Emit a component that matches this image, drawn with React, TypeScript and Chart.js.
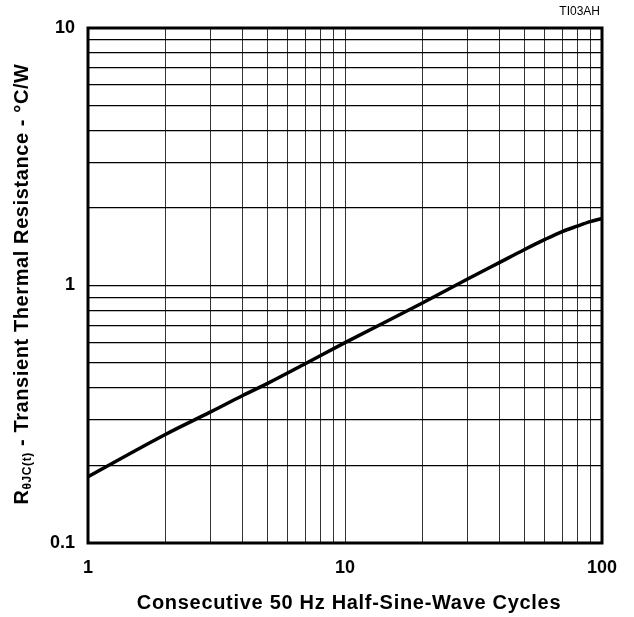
import React, { useEffect, useRef } from "react";
import { Chart, registerables } from "chart.js";

Chart.register(...registerables);

const cycles = [1, 2, 3, 4, 5, 7, 10, 20, 30, 40, 50, 60, 70, 80, 90, 100];
const resistance = [0.181, 0.264, 0.323, 0.374, 0.417, 0.497, 0.6, 0.855, 1.06, 1.23, 1.38, 1.51, 1.62, 1.7, 1.77, 1.82];
const xGridValues = [1, 2, 3, 4, 5, 6, 7, 8, 9, 10, 20, 30, 40, 50, 60, 70, 80, 90, 100];
const yGridValues = [0.1, 0.2, 0.3, 0.4, 0.5, 0.6, 0.7, 0.8, 0.9, 1, 2, 3, 4, 5, 6, 7, 8, 9, 10];
const xLabeled = [1, 10, 100];
const yLabeled = [0.1, 1, 10];
const xTitle = "Consecutive 50 Hz Half-Sine-Wave Cycles";
const yTitleMain = "R";
const yTitleSub = "θJC(t)";
const yTitleRest = " - Transient Thermal Resistance - °C/W";
const figId = "TI03AH";

const FONT = "'Liberation Sans', Arial, Helvetica, sans-serif";

const near = (v: number, arr: number[]) => arr.some((a) => Math.abs(a - v) / a < 1e-6);

const decorPlugin = {
  id: "decor",
  afterDraw(chart: any) {
    const { ctx, chartArea } = chart;
    const { left, right, top, bottom } = chartArea;
    ctx.save();
    // border
    ctx.strokeStyle = "#000";
    ctx.lineWidth = 3;
    ctx.strokeRect(left, top, right - left, bottom - top);
    // figure id
    ctx.fillStyle = "#000";
    ctx.font = `12px ${FONT}`;
    ctx.textAlign = "right";
    ctx.textBaseline = "middle";
    ctx.fillText(figId, 600, 12);
    // x title
    ctx.font = `bold 20px ${FONT}`;
    (ctx as any).letterSpacing = "0.7px";
    ctx.textAlign = "center";
    ctx.fillText(xTitle, 349, 603);
    // y title
    ctx.translate(22, 284);
    ctx.rotate(-Math.PI / 2);
    const mainFont = `bold 20px ${FONT}`;
    const subFont = `bold 12px ${FONT}`;
    (ctx as any).letterSpacing = "0.6px";
    ctx.font = mainFont;
    const w1 = ctx.measureText(yTitleMain).width;
    const w3 = ctx.measureText(yTitleRest).width;
    ctx.font = subFont;
    const w2 = ctx.measureText(yTitleSub).width;
    const total = w1 + w2 + w3;
    let x = -total / 2;
    ctx.textAlign = "left";
    ctx.font = mainFont;
    ctx.fillText(yTitleMain, x, 0);
    x += w1;
    ctx.font = subFont;
    ctx.fillText(yTitleSub, x, 6);
    x += w2;
    ctx.font = mainFont;
    ctx.fillText(yTitleRest, x, 0);
    ctx.restore();
  },
};

export default function App() {
  const ref = useRef<HTMLCanvasElement | null>(null);
  useEffect(() => {
    document.body.style.margin = "0";
    const canvas = ref.current!;
    const chart = new Chart(canvas, {
      type: "line",
      data: {
        datasets: [
          {
            data: cycles.map((c, i) => ({ x: c, y: resistance[i] })),
            borderColor: "#000",
            borderWidth: 3.5,
            pointRadius: 0,
            cubicInterpolationMode: "monotone",
            fill: false,
          },
        ],
      },
      options: {
        animation: false,
        responsive: false,
        maintainAspectRatio: false,
        layout: { padding: { top: 28, right: 32, left: 0, bottom: 0 } },
        plugins: { legend: { display: false }, tooltip: { enabled: false }, title: { display: false } },
        scales: {
          x: {
            type: "logarithmic",
            min: 1,
            max: 100,
            afterBuildTicks: (scale: any) => {
              scale.ticks = xGridValues.map((v) => ({ value: v }));
            },
            afterFit: (scale: any) => {
              scale.height = 74;
            },
            ticks: {
              autoSkip: false,
              maxRotation: 0,
              padding: 14,
              color: "#000",
              font: { family: FONT, size: 18, weight: "bold" },
              callback: (v: any) => (near(Number(v), xLabeled) ? String(Number(v)) : ""),
            },
            grid: { color: "#333", lineWidth: 1, drawTicks: false },
            border: { display: false },
          },
          y: {
            type: "logarithmic",
            min: 0.1,
            max: 10,
            afterBuildTicks: (scale: any) => {
              scale.ticks = yGridValues.map((v) => ({ value: v }));
            },
            afterFit: (scale: any) => {
              scale.width = 88;
            },
            ticks: {
              autoSkip: false,
              padding: 13,
              color: "#000",
              font: { family: FONT, size: 18, weight: "bold" },
              callback: (v: any) => (near(Number(v), yLabeled) ? String(Number(v)) : ""),
            },
            grid: { color: "#000", lineWidth: 1.3, drawTicks: false },
            border: { display: false },
          },
        },
      },
      plugins: [decorPlugin],
    } as any);
    return () => chart.destroy();
  }, []);
  return (
    <div style={{ width: 634, height: 617, background: "#fff" }}>
      <canvas ref={ref} width={634} height={617} style={{ display: "block" }} />
    </div>
  );
}
